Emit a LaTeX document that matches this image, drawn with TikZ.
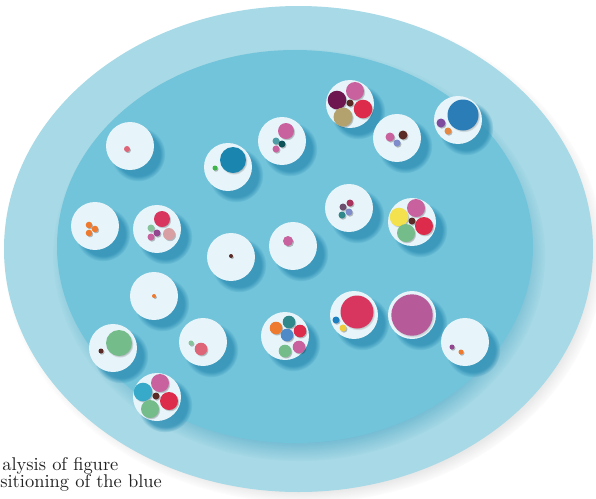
\documentclass[tikz,border=0pt]{standalone}
\usetikzlibrary{shadows,fadings}

\definecolor{ringblue}{HTML}{A7D9E6}
\definecolor{poolblue}{HTML}{72C4DA}
\definecolor{poolshade}{HTML}{4FA6C4}
\definecolor{discwhite}{HTML}{E7F4F9}
\definecolor{shadeblue}{HTML}{2F8FB5}
\definecolor{captiongray}{HTML}{222222}
% dot colours
\definecolor{pinkA}{HTML}{C9619F}
\definecolor{roseA}{HTML}{DE6478}
\definecolor{roseB}{HTML}{D8A0A3}
\definecolor{redA}{HTML}{DC2B4B}
\definecolor{crimson}{HTML}{D8365F}
\definecolor{plum}{HTML}{6E1650}
\definecolor{khaki}{HTML}{B3A26E}
\definecolor{brownA}{HTML}{5A2A26}
\definecolor{bigblue}{HTML}{2B7DB8}
\definecolor{tealA}{HTML}{1A86B0}
\definecolor{tealB}{HTML}{4D9DA6}
\definecolor{tealC}{HTML}{31888A}
\definecolor{darkteal}{HTML}{0E5258}
\definecolor{purpleA}{HTML}{7D4C9E}
\definecolor{purpleB}{HTML}{93468F}
\definecolor{mauve}{HTML}{6C4E6E}
\definecolor{berry}{HTML}{A8345E}
\definecolor{lavender}{HTML}{7E8CCB}
\definecolor{orangeA}{HTML}{EE7A2F}
\definecolor{orangeB}{HTML}{E48943}
\definecolor{greenA}{HTML}{74BC8A}
\definecolor{greenB}{HTML}{3CB44A}
\definecolor{greenC}{HTML}{86C39B}
\definecolor{yellowA}{HTML}{F3E24E}
\definecolor{yellowB}{HTML}{EDCB3C}
\definecolor{magentaA}{HTML}{B65A9A}
\definecolor{cyanA}{HTML}{36AAC8}
\definecolor{blueB}{HTML}{4E89C8}
\definecolor{blueC}{HTML}{1E7FC0}

% soft edge for the big ellipses
\pgfdeclareradialshading{rimfade}{\pgfpointorigin}{color(0bp)=(pgftransparent!0); color(22bp)=(pgftransparent!0); color(25bp)=(pgftransparent!100); color(50bp)=(pgftransparent!100)}
\pgfdeclarefading{rimfade}{\pgfuseshading{rimfade}}

\tikzset{
    disc/.style={circle, fill=discwhite, minimum size=0.96cm, inner sep=0pt,
        general shadow={shadow xshift=4pt, shadow yshift=-4pt, shadow scale=1.14,
            fill=shadeblue, opacity=.8, path fading=circle with fuzzy edge 20 percent}},
    dot/.style={general shadow={shadow xshift=.5pt, shadow yshift=-.6pt, shadow scale=1.05,
            fill=black, opacity=.25, path fading=circle with fuzzy edge 20 percent}},
    caption/.style={anchor=base west, inner sep=0pt, text=captiongray, font=\fontsize{10.5}{12}\selectfont}
}

\begin{document}
\begin{tikzpicture}[x=0.02cm, y=-0.02cm]
    \useasboundingbox (0,0) rectangle (596,498);

    % outer ring
    \fill[black!35, opacity=.6, path fading=rimfade] (304,255) ellipse [x radius=300, y radius=248];
    \fill[ringblue] (298.5,249) ellipse [x radius=294.5, y radius=243];

    % pool
    \fill[poolshade, opacity=.7, path fading=rimfade] (299,255) ellipse [x radius=246, y radius=206];
    \fill[poolblue] (295,246.5) ellipse [x radius=238, y radius=196.5];

    % discs
    \foreach \n/\x/\y in {1/130/146, 2/228/167, 3/282/141, 4/350/104, 5/397/138,
                          6/458/120, 7/95/226, 8/157/229, 9/231/257, 10/293/246,
                          11/349/208, 12/412/222, 13/154/296, 14/113/348, 15/203/342,
                          16/285/336, 17/354/315, 18/412/315, 19/465/342, 20/157/397} {
        \node[disc] (d\n) at (\x,\y) {};
    }

    % contents of the discs
    \foreach \x/\y/\r/\c in {127/149/3/roseA,
                             233/160/13/tealA, 215/168/2.5/greenB,
                             286/131/8/pinkA, 276/141/3.5/tealB, 282/144/3.5/darkteal, 276/149/3.5/pinkA,
                             337/100/9.3/plum, 355/91/9/pinkA, 363/109/9.3/redA, 343/117/9.5/khaki, 350/103/3.5/brownA,
                             390/137/4.5/pinkA, 403/135/4.5/brownA, 397/143/3.5/lavender,
                             463/115/15.5/bigblue, 441/123/4.5/purpleA, 448/131/3.5/orangeB,
                             89/225/3.3/orangeA, 95/229/3.3/orangeA, 89/233/3.3/orangeA,
                             162/219/8/crimson, 151/228/3.5/greenC, 157/233/3.5/purpleB, 151/237/3.5/pinkA, 169/234/6/roseB,
                             231/256/2/brownA,
                             288/241/5/pinkA,
                             343/207/3.5/mauve, 350/203/3.5/berry, 349/212/3.5/lavender, 342/215/3.5/tealC,
                             399/217/9.3/yellowA, 416/208/9/pinkA, 424/226/9/redA, 406/233/9/greenA, 412/221/3.5/brownA,
                             154/296/2/orangeA,
                             119/343/13/greenA, 101/351/2.5/brownA,
                             191/343/2.5/greenC, 201/349/6.3/roseA,
                             276/328/6.3/orangeA, 289/322/6.3/tealC, 300/331/6.3/redA, 287/335/6.3/blueB, 299/347/6.3/pinkA, 285/351/6.3/greenA,
                             357/312/16.5/crimson, 336/320/3.5/blueC, 343/328/3.5/yellowB,
                             412/315/20.7/magentaA,
                             452/347/2.5/purpleB, 461/352/2.5/orangeA,
                             143/392/9.3/cyanA, 160/383/9/pinkA, 169/401/9/redA, 150/409/9/greenA, 156/396/3.5/brownA} {
        \fill[dot, \c] (\x,\y) circle [radius=\r];
    }

    % caption, cut at the left edge
    \node[caption] (cap1) at (2,470) {alysis of figure};
    \node[caption] (cap2) at (0,487) {sitioning of the blue};
\end{tikzpicture}
\end{document}
